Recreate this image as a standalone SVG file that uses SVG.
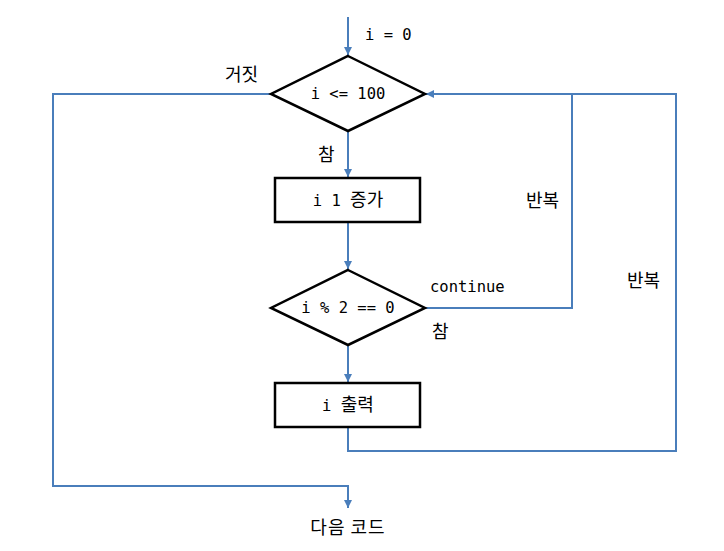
<svg xmlns="http://www.w3.org/2000/svg" width="724" height="551" viewBox="0 0 724 551">
<style>
.shape{fill:#fff;stroke:#000;stroke-width:2.5}
.conn{fill:none;stroke:#4a7ebb;stroke-width:2}
.code{font-family:"DejaVu Sans Mono","Liberation Mono","Noto Sans CJK KR",monospace;font-size:15.5px;fill:#000}
.kr{font-family:"Noto Sans CJK KR","Noto Sans",sans-serif;font-size:18px;fill:#000}
</style>
<defs>
<marker id="arr" viewBox="0 0 10 10" refX="10" refY="5" markerWidth="4" markerHeight="4" orient="auto" markerUnits="strokeWidth">
<path d="M0,0 L10,5 L0,10 z" fill="#4a7ebb"/>
</marker>
</defs>
<rect width="724" height="551" fill="#fff"/>
<g id="connectors">
<path class="conn" d="M348,17 L348,55" marker-end="url(#arr)"/>
<path class="conn" d="M348,131 L348,177" marker-end="url(#arr)"/>
<path class="conn" d="M348,222 L348,269" marker-end="url(#arr)"/>
<path class="conn" d="M348,345 L348,382" marker-end="url(#arr)"/>
<path class="conn" d="M348,427 L348,451 L676,451 L676,94 L426,94" marker-end="url(#arr)"/>
<path class="conn" d="M425,308 L572,308 L572,94"/>
<path class="conn" d="M271,94 L53,94 L53,486 L348,486 L348,508" marker-end="url(#arr)"/>
</g>
<g id="cond1">
<polygon class="shape" points="348,56 425,94 348,131 271,94"/>
<text class="code" x="348" y="99" text-anchor="middle">i &lt;= 100</text>
</g>
<g id="inc">
<rect class="shape" x="275" y="178" width="145" height="44"/>
<text class="kr" x="348" y="206" text-anchor="middle"><tspan class="code">i 1 </tspan>증가</text>
</g>
<g id="cond2">
<polygon class="shape" points="348,270 425,308 348,345 271,308"/>
<text class="code" x="348" y="313" text-anchor="middle">i % 2 == 0</text>
</g>
<g id="print">
<rect class="shape" x="275" y="383" width="145" height="44"/>
<text class="kr" x="348" y="411" text-anchor="middle"><tspan class="code">i </tspan>출력</text>
</g>
<g id="labels">
<text class="code" x="365" y="40">i = 0</text>
<text class="kr" x="225" y="81">거짓</text>
<text class="kr" x="318" y="161">참</text>
<text class="kr" x="526" y="207">반복</text>
<text class="kr" x="627" y="287">반복</text>
<text class="code" x="430" y="292">continue</text>
<text class="kr" x="432" y="338">참</text>
<text class="kr" x="348" y="534" text-anchor="middle" letter-spacing="1">다음 코드</text>
</g>
</svg>
